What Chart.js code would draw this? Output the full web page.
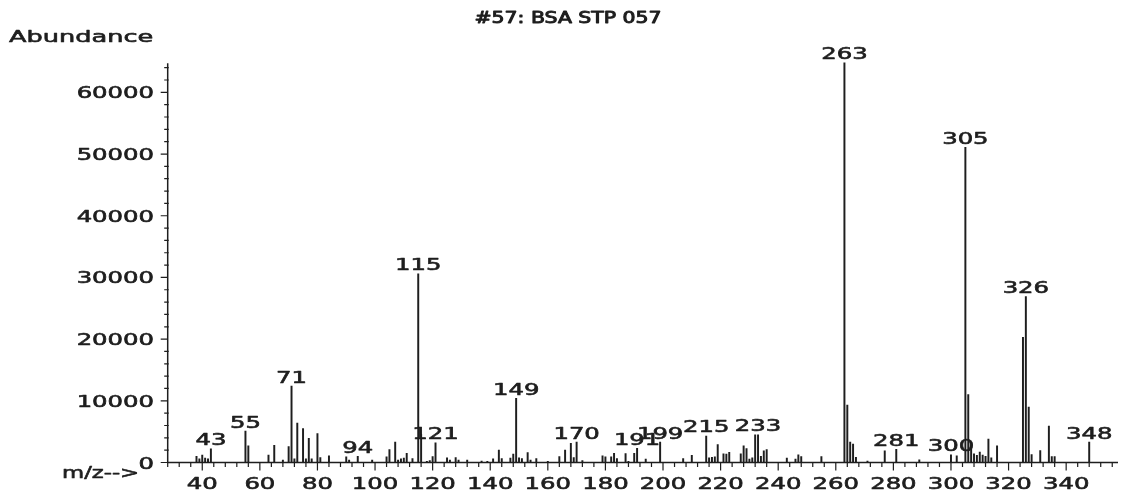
<!DOCTYPE html>
<html>
<head>
<meta charset="utf-8">
<title>#57: BSA STP 057</title>
<script src="https://cdn.jsdelivr.net/npm/chart.js@4.4.1/dist/chart.umd.min.js"></script>
<style>
  html, body { margin: 0; padding: 0; background: #fff; }
  canvas { display: block; }
</style>
</head>
<body>
<canvas id="spectrum" width="1126" height="494"></canvas>
<script>
// spectrum #57 - peaks

const masses = [
  38, 39, 40, 41, 42, 43, 55, 56, 63, 65, 68, 70, 71, 72, 73, 75, 76, 77, 78, 80, 81, 84,
  90, 91, 94, 99, 104, 105, 107, 108, 109, 110, 111, 113, 115, 116, 118, 119, 120, 121,
  125, 126, 128, 129, 132, 137, 139, 141, 143, 144, 147, 148, 149, 150, 151, 153, 154, 156, 160,
  164, 166, 168, 169, 170, 172, 179, 180, 182, 183, 184, 187, 188, 190, 191, 194,
  199, 207, 210, 215, 216, 217, 218, 219, 221, 222, 223,
  227, 228, 229, 230, 231, 232, 233, 234, 235, 236, 243, 246, 247, 248, 255,
  263, 264, 265, 266, 267, 271, 277, 281, 289, 300, 302,
  305, 306, 307, 308, 309, 310, 311, 312, 313, 314, 316,
  325, 326, 327, 328, 331, 334, 335, 336, 348,
];
const abundances = [
  1000, 600, 1200, 700, 600, 2200, 5100, 2700, 1200, 2800, 400, 2600, 12400, 600, 6400, 5500, 600, 3900, 600, 4700, 800, 1100,
  900, 400, 1000, 400, 900, 2100, 3300, 400, 600, 700, 1500, 650, 30600, 4600, 200, 300, 950, 3200,
  750, 400, 800, 400, 400, 250, 200, 600, 2000, 650, 700, 1350, 10400, 750, 650, 1600, 400, 650, 200,
  950, 2000, 3100, 800, 3300, 300, 1100, 900, 900, 1500, 650, 1450, 200, 1500, 2300, 550,
  3300, 650, 1150, 4300, 750, 850, 900, 2900, 1400, 1350, 1650,
  1400, 2700, 2250, 550, 750, 4500, 4500, 1000, 1900, 2100, 700, 550, 1250, 950, 950,
  64800, 9300, 3300, 3000, 850, 250, 1900, 2150, 450, 1250, 1100,
  51100, 11000, 2900, 1400, 1150, 1700, 1200, 1000, 3800, 750, 2700,
  20300, 26900, 9000, 1300, 1950, 5900, 950, 950, 3300,
];
const labelledPeaks = [43, 55, 71, 94, 115, 121, 149, 170, 191, 199, 215, 233, 263, 281, 300, 305, 326, 348];
const xTickLabels = [40, 60, 80, 100, 120, 140, 160, 180, 200, 220, 240, 260, 280, 300, 320, 340];
const yTickLabels = [0, 10000, 20000, 30000, 40000, 50000, 60000];

const ink = "#1e1e1e";
const STRETCH = 1.52;

// the printout font is very wide and heavy, so stretch a normal sans sideways
// and run a thin stroke round it
function wideText(ctx, text, x, y, align, size, stretch, weight) {
  ctx.save();
  ctx.font = size + 'px "DejaVu Sans"';
  const w = ctx.measureText(text).width * stretch;
  let left = x;
  if (align === "center") left = x - w / 2;
  if (align === "right") left = x - w;
  ctx.translate(left, y);
  ctx.scale(stretch, 1);
  ctx.textAlign = "left";
  ctx.textBaseline = "alphabetic";
  ctx.fillStyle = ink;
  ctx.strokeStyle = ink;
  ctx.lineWidth = weight || 0.6;
  ctx.lineJoin = "round";
  ctx.fillText(text, 0, 0);
  ctx.strokeText(text, 0, 0);
  ctx.restore();
}

const printoutAxes = {
  id: "printoutAxes",
  afterDraw(chart) {
    const ctx = chart.ctx;
    const xs = chart.scales.x;
    const ys = chart.scales.y;
    const base = ys.getPixelForValue(0);
    const left = xs.left;

    ctx.save();
    ctx.strokeStyle = ink;
    ctx.lineWidth = 1.5;
    ctx.beginPath();
    ctx.moveTo(left, ys.getPixelForValue(64700));
    ctx.lineTo(left, base);
    ctx.lineTo(xs.right, base);
    ctx.stroke();

    ctx.lineWidth = 1.2;
    ctx.beginPath();
    for (let v = 0; v <= 64000; v += 2000) {
      const py = ys.getPixelForValue(v);
      const major = v % 10000 === 0;
      ctx.moveTo(left - (major ? 7 : 3.5), py);
      ctx.lineTo(left + (major ? 0 : 1), py);
    }
    for (let m = 28; m <= 356; m += 4) {
      const px = xs.getPixelForValue(m);
      ctx.moveTo(px, base);
      ctx.lineTo(px, base + (m % 20 === 0 ? 8 : 4.5));
    }
    ctx.stroke();
    ctx.restore();

    yTickLabels.forEach((v) => wideText(ctx, String(v), 154, ys.getPixelForValue(v) + 6, "right", 16, STRETCH));
    xTickLabels.forEach((m) => wideText(ctx, String(m), xs.getPixelForValue(m), 489, "center", 16, STRETCH));

    labelledPeaks.forEach((m) => {
      const v = abundances[masses.indexOf(m)];
      wideText(ctx, String(m), xs.getPixelForValue(m), ys.getPixelForValue(v) - 3.5, "center", 16, STRETCH);
    });

    wideText(ctx, "#57: BSA STP 057", 568, 23, "center", 15, 1.36, 0.9);
    wideText(ctx, "Abundance", 9, 42, "left", 16, 1.6);
    wideText(ctx, "m/z-->", 62, 478, "left", 16, 1.42);
  },
};

new Chart(document.getElementById("spectrum"), {
  type: "bar",
  data: {
    datasets: [{
      data: masses.map((m, i) => ({ x: m, y: abundances[i] })),
      backgroundColor: ink,
      borderWidth: 0,
      barThickness: 1.3,
    }],
  },
  options: {
    responsive: false,
    animation: false,
    devicePixelRatio: 1,
    layout: { padding: { left: 167.7, right: 8, top: 61.5, bottom: 31.5 } },
    scales: {
      x: { type: "linear", min: 28, max: 358, offset: false, display: false },
      y: { min: 0, max: 65000, display: false },
    },
    plugins: { legend: { display: false }, tooltip: { enabled: false } },
  },
  plugins: [printoutAxes],
});
</script>
</body>
</html>
